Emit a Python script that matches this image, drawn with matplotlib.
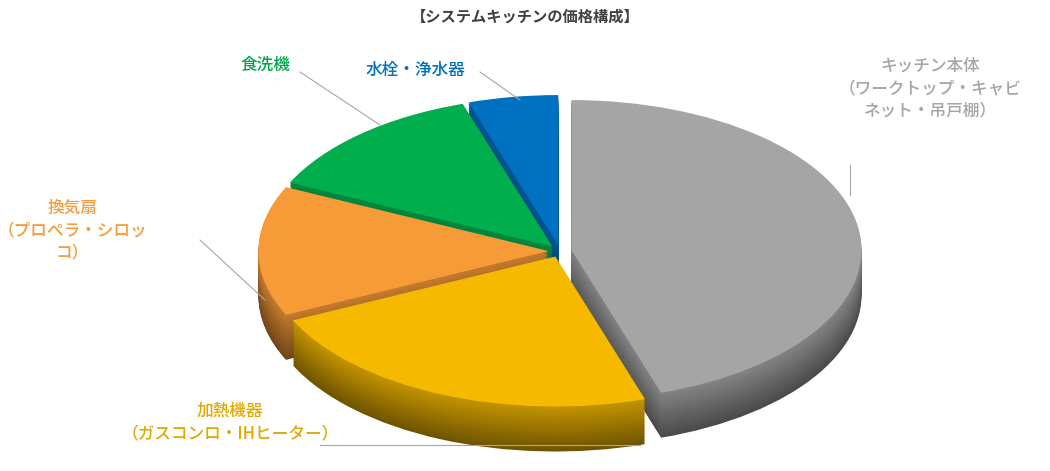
import matplotlib
matplotlib.use("Agg")
import matplotlib.pyplot as plt
import numpy as np
from matplotlib.colors import to_rgb

plt.rcParams['font.family'] = ['Noto Sans CJK JP', 'DejaVu Sans']

categories = ["キッチン本体\n（ワークトップ・キャビ\nネット・吊戸棚）",
              "加熱機器\n（ガスコンロ・IHヒーター）",
              "換気扇\n（プロペラ・シロッ\nコ）",
              "食洗機",
              "水栓・浄水器"]
values = [45, 23, 14, 13, 5]
colors = ["#A5A5A5", "#F5BA00", "#F79A38", "#00AE4E", "#0070C0"]
label_colors = ["#A5A5A5", "#E0A800", "#F79A38", "#00A84A", "#0070C0"]

fig = plt.figure(figsize=(10.5, 4.71), dpi=100)
ax = fig.add_axes([0, 0, 1, 1])

explode = [0.04] * len(values)
depth = 0.3
N = 30
def darker(c, f):
    r, g, b = to_rgb(c)
    return (r * f, g * f, b * f)

for k in range(N, 0, -1):
    dy = -depth * k / N
    shade = 0.45 + 0.35 * (1 - k / N)
    ax.pie(values, startangle=90, counterclock=False, explode=explode,
           colors=[darker(c, shade) for c in colors], center=(0, dy),
           wedgeprops=dict(linewidth=0), frame=True)
ax.pie(values, startangle=90, counterclock=False, explode=explode,
       colors=colors, center=(0, 0), wedgeprops=dict(linewidth=0), frame=True)

ax.set_aspect('auto')
ax.set_xlim(-560 / 290, 490 / 290)
ax.set_ylim(-220 / 150, 251 / 150)
ax.axis('off')

fig.text(0.5, 0.965, "【システムキッチンの価格構成】", ha='center', va='center',
         fontsize=11, fontweight='bold', color='#404040')

label_pos = [(930, 88), (230, 422), (72, 230), (265, 65), (415, 70)]
line_pts = [[(850, 165), (850, 195)],
            [(320, 445), (640, 445)],
            [(200, 240), (265, 300)],
            [(300, 72), (380, 125)],
            [(480, 72), (520, 100)]]
for lab, col, (px, py), pts in zip(categories, label_colors, label_pos, line_pts):
    fig.text(px / 1050, 1 - py / 471, lab, ha='center', va='center',
             fontsize=12, color=col, linespacing=1.3, fontweight='medium')
    xs = [p[0] / 1050 for p in pts]
    ys = [1 - p[1] / 471 for p in pts]
    fig.add_artist(plt.Line2D(xs, ys, color='#A6A6A6', lw=0.8))

fig.savefig("out.png", dpi=100)
